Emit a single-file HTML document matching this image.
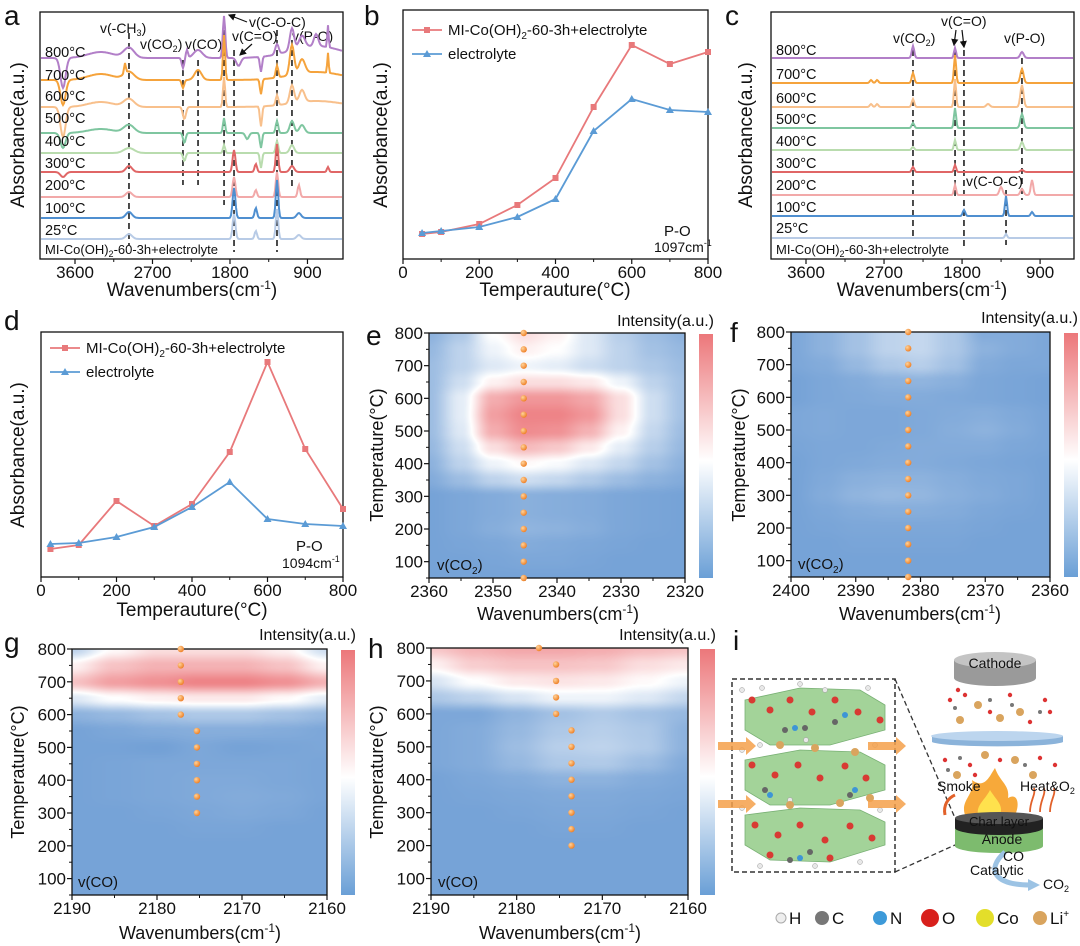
<!DOCTYPE html>
<html><head><meta charset="utf-8">
<style>
html,body{margin:0;padding:0;background:#fff;}
#wrap{position:relative;width:1080px;height:946px;overflow:hidden;font-family:"Liberation Sans",sans-serif;}
canvas{position:absolute;}
#fig{position:absolute;left:0;top:0;}
text{font-family:"Liberation Sans",sans-serif;fill:#111;}
</style></head>
<body>
<div id="wrap">
<canvas id="hmE" width="256" height="245" style="left:429px;top:333px"></canvas>
<canvas id="hmF" width="259" height="245" style="left:791px;top:332px"></canvas>
<canvas id="hmG" width="255" height="246" style="left:72px;top:649px"></canvas>
<canvas id="hmH" width="257" height="247" style="left:431px;top:648px"></canvas>
<svg id="fig" width="1080" height="946" xmlns="http://www.w3.org/2000/svg">
<defs>
<linearGradient id="cbar" x1="0" y1="0" x2="0" y2="1">
<stop offset="0" stop-color="#ec777a"/><stop offset="0.52" stop-color="#ffffff"/><stop offset="1" stop-color="#6a9fd6"/>
</linearGradient>
<radialGradient id="dotg" cx="0.35" cy="0.35" r="0.7"><stop offset="0" stop-color="#ffd39a"/><stop offset="1" stop-color="#ee7d22"/></radialGradient>
<marker id="arh" markerWidth="6" markerHeight="6" refX="5" refY="3" orient="auto"><path d="M0,0 L6,3 L0,6 z" fill="#111"/></marker>
</defs>

<text x="4" y="25" font-size="28">a</text>
<text x="364" y="25" font-size="28">b</text>
<text x="725" y="25" font-size="28">c</text>
<text x="4" y="330" font-size="28">d</text>
<text x="366" y="345" font-size="28">e</text>
<text x="730" y="342" font-size="28">f</text>
<text x="4" y="652" font-size="28">g</text>
<text x="368" y="658" font-size="28">h</text>
<text x="733" y="650" font-size="28">i</text>

<g font-size="19" text-anchor="middle">
<text x="192" y="296">Wavenumbers(cm<tspan font-size="12" dy="-7">-1</tspan><tspan dy="7">)</tspan></text>
<text x="555" y="296">Temperauture(°C)</text>
<text x="922" y="296">Wavenumbers(cm<tspan font-size="12" dy="-7">-1</tspan><tspan dy="7">)</tspan></text>
<text x="192" y="616">Temperauture(°C)</text>
<text x="558" y="620" font-size="18">Wavenumbers(cm<tspan font-size="12" dy="-7">-1</tspan><tspan dy="7">)</tspan></text>
<text x="920" y="620" font-size="18">Wavenumbers(cm<tspan font-size="12" dy="-7">-1</tspan><tspan dy="7">)</tspan></text>
<text x="200" y="939" font-size="18">Wavenumbers(cm<tspan font-size="12" dy="-7">-1</tspan><tspan dy="7">)</tspan></text>
<text x="560" y="939" font-size="18">Wavenumbers(cm<tspan font-size="12" dy="-7">-1</tspan><tspan dy="7">)</tspan></text>
<text transform="translate(24,135) rotate(-90)">Absorbance(a.u.)</text>
<text transform="translate(387,135) rotate(-90)">Absorbance(a.u.)</text>
<text transform="translate(752,135) rotate(-90)">Absorbance(a.u.)</text>
<text transform="translate(24,455) rotate(-90)">Absorbance(a.u.)</text>
<text transform="translate(383,455) rotate(-90)" font-size="18">Temperature(°C)</text>
<text transform="translate(745,455) rotate(-90)" font-size="18">Temperature(°C)</text>
<text transform="translate(24,772) rotate(-90)" font-size="18">Temperature(°C)</text>
<text transform="translate(383,772) rotate(-90)" font-size="18">Temperature(°C)</text>
</g>

<rect x="699" y="334" width="14" height="244" fill="url(#cbar)"/>
<rect x="1064" y="333" width="14" height="244" fill="url(#cbar)"/>
<rect x="341" y="650" width="14" height="245" fill="url(#cbar)"/>
<rect x="700" y="649" width="15" height="246" fill="url(#cbar)"/>
<g font-size="16" text-anchor="end">
<text x="714" y="326">Intensity(a.u.)</text>
<text x="1078" y="323">Intensity(a.u.)</text>
<text x="356" y="640">Intensity(a.u.)</text>
<text x="716" y="640">Intensity(a.u.)</text>
</g>
<g font-size="15">
<text x="437" y="570" fill="#e8f0fa">v(CO<tspan font-size="10" dy="4">2</tspan><tspan dy="-4">)</tspan></text>
<text x="798" y="569" fill="#e8f0fa">v(CO<tspan font-size="10" dy="4">2</tspan><tspan dy="-4">)</tspan></text>
<text x="78" y="887" fill="#e8f0fa">v(CO)</text>
<text x="438" y="887" fill="#e8f0fa">v(CO)</text>
</g>

<g font-size="14">
<text x="100" y="33">v(-CH<tspan font-size="9" dy="3">3</tspan><tspan dy="-3">)</tspan></text>
<text x="140" y="49">v(CO<tspan font-size="9" dy="3">2</tspan><tspan dy="-3">)</tspan></text>
<text x="185" y="49">v(CO)</text>
<text x="249" y="27">v(C-O-C)</text>
<text x="232" y="41">v(C=O)</text>
<text x="292" y="41">v(P-O)</text>
<line x1="247" y1="22" x2="229" y2="15" stroke="#111" stroke-width="1.2" marker-end="url(#arh)"/>
<line x1="252" y1="44" x2="240" y2="55" stroke="#111" stroke-width="1.2" marker-end="url(#arh)"/>
</g>
<g font-size="14">
<text x="893" y="43">v(CO<tspan font-size="9" dy="3">2</tspan><tspan dy="-3">)</tspan></text>
<text x="941" y="26">v(C=O)</text>
<text x="1004" y="43">v(P-O)</text>
<text x="966" y="186">v(C-O-C)</text>
<line x1="956" y1="30" x2="954" y2="45" stroke="#111" stroke-width="1.2" marker-end="url(#arh)"/>
<line x1="962" y1="30" x2="964" y2="47" stroke="#111" stroke-width="1.2" marker-end="url(#arh)"/>
</g>
<g font-size="15">
<text x="664" y="236">P-O</text>
<text x="654" y="252" font-size="14">1097cm<tspan font-size="9" dy="-6">-1</tspan></text>
<text x="296" y="551">P-O</text>
<text x="282" y="568" font-size="14">1094cm<tspan font-size="9" dy="-6">-1</tspan></text>
</g>

<g id="plots"></g>

<g id="panel-i">
<rect x="732" y="679" width="163" height="193" fill="none" stroke="#333" stroke-width="1.5" stroke-dasharray="5,3"/>
<path d="M895,679 L955,818 M895,872 L955,845" stroke="#333" stroke-width="1.3" stroke-dasharray="5,3" fill="none"/>
<g fill="#9acf8e" stroke="#6aa865" stroke-width="0.8" opacity="0.9">
<path d="M745,700 L800,688 L860,690 L885,705 L885,730 L830,745 L770,745 L745,730 z"/>
<path d="M745,760 L800,750 L860,752 L885,765 L885,790 L830,805 L770,805 L745,790 z"/>
<path d="M745,815 L800,808 L860,810 L885,822 L885,845 L830,862 L770,860 L745,845 z"/>
</g>
<g fill="#e8e8e8" stroke="#999" stroke-width="0.5">
<circle cx="742" cy="690" r="2.5"/><circle cx="762" cy="688" r="2.5"/><circle cx="800" cy="684" r="2.5"/><circle cx="825" cy="690" r="2.5"/><circle cx="868" cy="688" r="2.5"/><circle cx="742" cy="750" r="2.5"/><circle cx="760" cy="745" r="2.5"/><circle cx="806" cy="740" r="2.5"/><circle cx="875" cy="745" r="2.5"/><circle cx="742" cy="808" r="2.5"/><circle cx="790" cy="800" r="2.5"/><circle cx="880" cy="810" r="2.5"/><circle cx="760" cy="866" r="2.5"/><circle cx="815" cy="866" r="2.5"/><circle cx="860" cy="862" r="2.5"/>
</g>
<g fill="#d83a33">
<circle cx="752" cy="700" r="3.5"/><circle cx="770" cy="710" r="3.5"/><circle cx="790" cy="700" r="3.5"/><circle cx="812" cy="712" r="3.5"/><circle cx="835" cy="700" r="3.5"/><circle cx="858" cy="712" r="3.5"/><circle cx="880" cy="720" r="3.5"/>
<circle cx="752" cy="765" r="3.5"/><circle cx="775" cy="775" r="3.5"/><circle cx="798" cy="765" r="3.5"/><circle cx="820" cy="778" r="3.5"/><circle cx="845" cy="766" r="3.5"/><circle cx="866" cy="778" r="3.5"/>
<circle cx="755" cy="825" r="3.5"/><circle cx="778" cy="835" r="3.5"/><circle cx="800" cy="825" r="3.5"/><circle cx="825" cy="840" r="3.5"/><circle cx="850" cy="826" r="3.5"/><circle cx="872" cy="838" r="3.5"/><circle cx="770" cy="855" r="3.5"/><circle cx="830" cy="858" r="3.5"/>
</g>
<g fill="#666">
<circle cx="785" cy="730" r="3"/><circle cx="805" cy="728" r="3"/><circle cx="835" cy="722" r="3"/><circle cx="765" cy="790" r="3"/><circle cx="850" cy="795" r="3"/><circle cx="790" cy="860" r="3"/><circle cx="810" cy="852" r="3"/>
</g>
<g fill="#d9a45e">
<circle cx="780" cy="745" r="4"/><circle cx="815" cy="748" r="4"/><circle cx="855" cy="752" r="4"/><circle cx="790" cy="805" r="4"/><circle cx="840" cy="803" r="4"/><circle cx="870" cy="798" r="4"/>
</g>
<g fill="#3d95d6">
<circle cx="795" cy="728" r="3"/><circle cx="845" cy="715" r="3"/><circle cx="770" cy="795" r="3"/><circle cx="800" cy="858" r="3"/><circle cx="855" cy="790" r="3"/>
</g>
<g fill="#f5a04a">
<path d="M718,742 L746,742 L746,737 L756,746 L746,755 L746,750 L718,750 z" opacity="0.85"/>
<path d="M718,800 L746,800 L746,795 L756,804 L746,813 L746,808 L718,808 z" opacity="0.85"/>
<path d="M868,742 L896,742 L896,737 L906,746 L896,755 L896,750 L868,750 z" opacity="0.85"/>
<path d="M868,800 L896,800 L896,795 L906,804 L896,813 L896,808 L868,808 z" opacity="0.85"/>
</g>
<g>
<path d="M954,660 L954,678 A41,8 0 0 0 1036,678 L1036,660 z" fill="#9a9a9a"/>
<ellipse cx="995" cy="660" rx="41" ry="8" fill="#c4c4c4"/>
<text x="995" y="668" font-size="14" text-anchor="middle" fill="#222">Cathode</text>
</g>
<g>
<g fill="#d9a45e"><circle cx="978" cy="705" r="4"/><circle cx="1020" cy="712" r="4"/><circle cx="960" cy="720" r="4"/><circle cx="1000" cy="718" r="4"/><circle cx="985" cy="755" r="4"/><circle cx="1015" cy="760" r="4"/><circle cx="957" cy="775" r="4"/><circle cx="1033" cy="775" r="4"/></g>
<g fill="#d33" ><circle cx="950" cy="700" r="2.2"/><circle cx="965" cy="695" r="2.2"/><circle cx="1010" cy="695" r="2.2"/><circle cx="1045" cy="700" r="2.2"/><circle cx="1030" cy="722" r="2.2"/><circle cx="945" cy="760" r="2.2"/><circle cx="970" cy="765" r="2.2"/><circle cx="1000" cy="760" r="2.2"/><circle cx="1040" cy="758" r="2.2"/><circle cx="1055" cy="765" r="2.2"/><circle cx="958" cy="690" r="2.2"/><circle cx="990" cy="712" r="2.2"/><circle cx="1050" cy="712" r="2.2"/><circle cx="975" cy="775" r="2.2"/></g>
<g fill="#777"><circle cx="955" cy="708" r="2"/><circle cx="990" cy="700" r="2"/><circle cx="1040" cy="712" r="2"/><circle cx="960" cy="758" r="2"/><circle cx="1025" cy="765" r="2"/><circle cx="1012" cy="705" r="2"/><circle cx="948" cy="770" r="2"/></g>
</g>
<g>
<path d="M932,736 L932,742 A66,5 0 0 0 1063,742 L1063,736 z" fill="#8bb3da"/>
<ellipse cx="997" cy="736" rx="66" ry="5" fill="#bcd5ee"/>
</g>
<g>
<path d="M965,815 C960,800 975,795 972,780 C985,790 990,775 995,768 C1000,782 1010,785 1008,798 C1018,792 1020,805 1015,815 z" fill="#f7a93a"/>
<path d="M978,815 C976,805 985,800 990,790 C996,800 1004,805 1000,815 z" fill="#ffe14d"/>
<path d="M945,815 C943,805 948,798 955,795" stroke="#e2612a" stroke-width="3" fill="none"/>
<path d="M1030,812 C1030,800 1036,795 1034,788 M1040,812 C1040,800 1046,795 1044,788 M1050,812 C1050,800 1056,795 1054,788" stroke="#e2612a" stroke-width="1.8" fill="none"/>
</g>
<text x="937" y="791" font-size="14">Smoke</text>
<text x="1020" y="791" font-size="14">Heat&amp;O<tspan font-size="9" dy="3">2</tspan></text>
<g>
<path d="M955,825 L955,846 A44,7 0 0 0 1043,846 L1043,825 z" fill="#7dbb6e"/>
<path d="M955,818 L955,828 A44,7 0 0 0 1043,828 L1043,818 z" fill="#222"/>
<ellipse cx="999" cy="818" rx="44" ry="6" fill="#555"/>
<text x="999" y="826" font-size="13" text-anchor="middle" fill="#ddd">Char layer</text>
<text x="1002" y="844" font-size="14" text-anchor="middle" fill="#222">Anode</text>
</g>
<path d="M1005,852 C985,870 995,885 1030,885" stroke="#9cc3e4" stroke-width="5" fill="none"/>
<path d="M1028,879 L1040,885 L1028,891 z" fill="#9cc3e4"/>
<text x="1003" y="861" font-size="14">CO</text>
<text x="970" y="875" font-size="14">Catalytic</text>
<text x="1043" y="889" font-size="14">CO<tspan font-size="9" dy="3">2</tspan></text>
<g font-size="17">
<circle cx="781" cy="918" r="5" fill="#eee" stroke="#aaa"/><text x="789" y="924">H</text>
<circle cx="822" cy="918" r="7" fill="#777"/><text x="832" y="924">C</text>
<circle cx="880" cy="918" r="7" fill="#3d9ad9"/><text x="890" y="924">N</text>
<circle cx="930" cy="918" r="9" fill="#d8201c"/><text x="942" y="924">O</text>
<circle cx="985" cy="918" r="9" fill="#e3de2a"/><text x="997" y="924">Co</text>
<circle cx="1040" cy="918" r="7" fill="#d9a45e"/><text x="1050" y="924">Li<tspan font-size="10" dy="-7">+</tspan></text>
</g>
</g>
</svg>
</div>
<script>
// ---------- DATA ----------
const tempsB = [50, 100, 200, 300, 400, 500, 600, 700, 800];
const hybridB = [25, 27, 35, 54, 81, 152, 214, 195, 207];
const electroB = [26, 28, 32, 42, 60, 128, 160, 149, 147];
const tempsD = [25, 100, 200, 300, 400, 500, 600, 700, 800];
const hybridD = [28, 32, 76, 51, 73, 125, 215, 128, 68];
const electroD = [33, 34, 40, 50, 70, 95, 58, 53, 51];
const tempTicks = [0, 200, 400, 600, 800];
const wnTicks = [3600, 2700, 1800, 900];
const traceLabels = ['800°C', '700°C', '600°C', '500°C', '400°C', '300°C', '200°C', '100°C', '25°C'];
const traceColors = ['#b27fc8', '#f5a33c', '#f8c08c', '#7fc6a0', '#b9dcae', '#e06666', '#f2a9a9', '#4f8fd0', '#b8cbe6'];
const stackA = [181, 159, 132, 106, 86, 67, 42, 21, 0];
const peaksA = [
  [[3739,-30,30],[3300,6,150],[2973,10,60],[2346,-10,14],[2300,8,12],[2171,8,50],[1869,42,14],[1700,-8,25],[1440,-15,12],[1254,10,20],[1080,22,25],[964,12,35],[800,12,25],[662,22,8],[800,12,300]],
  [[3739,-25,30],[3300,6,150],[3020,10,10],[2973,8,60],[2346,-8,14],[2171,10,40],[1869,45,12],[1440,-15,12],[1254,12,14],[1080,30,25],[964,14,35],[662,20,8],[800,8,300]],
  [[3739,-30,30],[3300,5,150],[2973,8,60],[2330,-12,18],[1869,30,12],[1440,-20,12],[1254,10,14],[1080,18,25],[964,12,30],[800,6,300]],
  [[3739,-15,30],[3300,4,150],[2973,8,60],[2330,-10,15],[1869,15,12],[1600,-6,20],[1440,-15,12],[1254,12,14],[1080,12,25],[964,8,30]],
  [[2973,5,60],[2330,-8,15],[1869,8,12],[1440,-15,12],[1254,12,14],[1080,8,25]],
  [[3739,-5,30],[2973,6,35],[1753,22,16],[1500,8,14],[1254,28,14],[1080,6,25],[662,5,12]],
  [[2973,5,35],[1753,20,16],[1500,7,14],[1254,25,14],[1000,12,14]],
  [[2973,6,35],[1753,30,16],[1500,10,14],[1254,38,14],[1000,5,25]],
  [[2973,5,35],[1753,25,16],[1500,8,14],[1254,30,14],[1000,4,25]]
];
const dashedA = [2973, 2346, 2171, 1869, 1753, 1254, 1080];
const stackC = [180, 155, 131, 110, 88, 66, 43, 22, 0];
const peaksC = [
  [[2366,12,14],[1881,10,12],[1109,6,20]],
  [[2850,3,14],[2780,3,14],[2366,10,14],[1881,28,12],[1109,14,18]],
  [[2850,3,14],[2780,3,14],[2366,8,14],[1881,28,12],[1500,3,20],[1109,22,18]],
  [[2366,5,14],[1881,20,12],[1109,14,18]],
  [[2366,3,14],[1881,10,12],[1109,8,18]],
  [[2366,5,14],[1881,7,12],[1109,2,18]],
  [[1881,10,12],[1351,8,18],[993,15,14],[1109,6,18]],
  [[1778,6,14],[1293,20,12],[993,4,14]],
  [[1293,4,12]]
];
const dashedC = [2366, 1881, 1778, 1293, 1109];
const hmTemps = [800, 750, 700, 650, 600, 550, 500, 450, 400, 350, 300, 250, 200, 150, 100, 50];
const wnE = [2360, 2355, 2350, 2345, 2340, 2335, 2330, 2325, 2320];
const valsE = [
 [.15,.25,.5,.62,.55,.4,.28,.2,.15],
 [.18,.3,.45,.55,.5,.4,.3,.22,.18],
 [.2,.3,.4,.45,.42,.35,.3,.25,.2],
 [.2,.35,.55,.62,.62,.58,.45,.3,.22],
 [.2,.42,.8,.88,.88,.82,.62,.35,.22],
 [.2,.42,.85,.95,.95,.88,.62,.35,.22],
 [.2,.4,.8,.92,.9,.78,.55,.32,.2],
 [.18,.35,.62,.75,.7,.58,.42,.28,.18],
 [.15,.3,.45,.52,.48,.4,.32,.22,.15],
 [.12,.2,.3,.35,.32,.26,.2,.15,.12],
 [.08,.1,.12,.14,.13,.12,.1,.09,.08],
 [.08,.1,.12,.14,.13,.12,.1,.09,.08],
 [.08,.1,.13,.16,.15,.13,.1,.09,.08],
 [.08,.09,.1,.12,.11,.1,.09,.08,.08],
 [.08,.08,.09,.1,.1,.09,.08,.08,.08],
 [.08,.08,.08,.08,.08,.08,.08,.08,.08]
];
const wnF = [2400, 2395, 2390, 2385, 2380, 2375, 2370, 2365, 2360];
const valsF = [
 [.1,.15,.22,.3,.32,.25,.12,.12,.1],
 [.1,.15,.22,.3,.32,.25,.15,.12,.1],
 [.1,.12,.18,.25,.28,.22,.12,.1,.1],
 [.08,.1,.12,.15,.16,.14,.1,.09,.08],
 [.08,.1,.11,.12,.12,.11,.1,.09,.08],
 [.1,.11,.1,.1,.11,.12,.13,.11,.09],
 [.1,.11,.1,.1,.11,.13,.15,.12,.09],
 [.09,.1,.1,.11,.12,.12,.12,.1,.09],
 [.08,.1,.11,.12,.12,.11,.1,.09,.08],
 [.08,.11,.14,.15,.15,.13,.11,.1,.08],
 [.08,.12,.16,.18,.17,.14,.12,.1,.08],
 [.08,.1,.12,.13,.13,.12,.1,.09,.08],
 [.08,.09,.1,.1,.1,.1,.09,.08,.08],
 [.08,.08,.09,.09,.09,.09,.08,.08,.08],
 [.08,.08,.08,.08,.08,.08,.08,.08,.08],
 [.08,.08,.08,.08,.08,.08,.08,.08,.08]
];
const wnG = [2190, 2185, 2180, 2175, 2170, 2165, 2160];
const valsG = [
 [.3,.52,.62,.62,.62,.55,.35],
 [.55,.72,.78,.78,.78,.72,.55],
 [.72,.85,.9,.95,.95,.9,.78],
 [.4,.5,.55,.58,.58,.52,.42],
 [.15,.18,.22,.25,.25,.22,.18],
 [.08,.1,.12,.13,.13,.12,.1],
 [.08,.08,.07,.1,.08,.09,.1],
 [.08,.09,.1,.1,.1,.1,.09],
 [.08,.09,.1,.11,.11,.1,.09],
 [.08,.09,.1,.11,.12,.11,.09],
 [.08,.08,.09,.1,.11,.1,.08],
 [.08,.08,.08,.09,.09,.08,.08],
 [.08,.08,.08,.08,.08,.08,.08],
 [.08,.08,.08,.08,.08,.08,.08],
 [.08,.08,.08,.08,.08,.08,.08],
 [.08,.08,.08,.08,.08,.08,.08]
];
const wnH = [2190, 2185, 2180, 2175, 2170, 2165, 2160];
const valsH = [
 [.7,.78,.82,.82,.8,.75,.72],
 [.55,.68,.72,.72,.7,.62,.58],
 [.38,.5,.58,.6,.58,.52,.45],
 [.25,.3,.38,.45,.45,.4,.32],
 [.1,.1,.16,.22,.26,.22,.18],
 [.1,.12,.18,.25,.28,.25,.15],
 [.1,.12,.2,.28,.3,.26,.15],
 [.1,.12,.18,.25,.26,.2,.12],
 [.08,.1,.12,.15,.15,.12,.1],
 [.08,.09,.1,.11,.11,.1,.09],
 [.08,.08,.09,.1,.1,.09,.08],
 [.08,.08,.08,.09,.09,.08,.08],
 [.08,.08,.08,.08,.08,.08,.08],
 [.08,.08,.08,.08,.08,.08,.08],
 [.08,.08,.08,.08,.08,.08,.08],
 [.08,.08,.08,.08,.08,.08,.08]
];
const hmYTicks = [100, 200, 300, 400, 500, 600, 700, 800];
const dotTempsE = [50,100,150,200,250,300,350,400,450,500,550,600,650,700,750,800];
const dotWnE = [2345.2,2345.2,2345.2,2345.2,2345.2,2345.2,2345.2,2345.2,2345.2,2345.2,2345.2,2345.2,2345.2,2345.2,2345.2,2345.2];
const dotTempsF = [50,100,150,200,250,300,350,400,450,500,550,600,650,700,750,800];
const dotWnF = [2381.9,2381.9,2381.9,2381.9,2381.9,2381.9,2381.9,2381.9,2381.9,2381.9,2381.9,2381.9,2381.9,2381.9,2381.9,2381.9];
const dotTempsG = [800,750,700,650,600,550,500,450,400,350,300];
const dotWnG = [2177.2,2177.2,2177.2,2177.2,2177.2,2175.3,2175.3,2175.3,2175.3,2175.3,2175.3];
const dotTempsH = [800,750,700,650,600,550,500,450,400,350,300,250,200];
const dotWnH = [2177.4,2175.4,2175.4,2175.4,2175.4,2173.6,2173.6,2173.6,2173.6,2173.6,2173.6,2173.6,2173.6];

// ---------- DRAWING ----------
const NS = 'http://www.w3.org/2000/svg';
const root = document.getElementById('plots');
function mk(tag, attrs, parent) {
  const e = document.createElementNS(NS, tag);
  for (const k in attrs) e.setAttribute(k, attrs[k]);
  (parent || root).appendChild(e);
  return e;
}
function lin(d0, d1, r0, r1) { return v => r0 + (v - d0) / (d1 - d0) * (r1 - r0); }

function frame(name, x0, y0, x1, y1) {
  const r = mk('rect', {x: x0, y: y0, width: x1 - x0, height: y1 - y0, fill: 'none', stroke: '#111', 'stroke-width': 1.3});
  
  
}
function xTicks(name, labels, y1, sx, minor) {
  const g = mk('g', {'font-size': 17, 'text-anchor': 'middle'});
  
  
  labels.forEach(v => {
    mk('line', {x1: sx(v), x2: sx(v), y1: y1, y2: y1 + 5, stroke: '#111', 'stroke-width': 1.2}, g);
    const t = mk('text', {x: sx(v), y: y1 + 19}, g);
    t.textContent = v;
  });
  minor.forEach(v => mk('line', {x1: sx(v), x2: sx(v), y1: y1, y2: y1 + 3, stroke: '#111', 'stroke-width': 1}, g));
}

function linePanel(key, temps, hyb, ele, x0, x1, y0, y1) {
  const sx = lin(0, 800, x0, x1);
  const sy = v => y1 - v;
  frame('plot-frame-' + key, x0, y0, x1, y1);
  xTicks('x-axis-' + key, tempTicks, y1, sx, [100, 300, 500, 700]);
  const series = [[hyb, '#e8797b', 'hybrid'], [ele, '#5b9bd5', 'electrolyte']];
  series.forEach(([vals, col, nm]) => {
    const pl = mk('polyline', {points: temps.map((t, i) => sx(t) + ',' + sy(vals[i])).join(' '), fill: 'none', stroke: col, 'stroke-width': 1.8});
    
    
    temps.forEach((t, i) => {
      const cx = sx(t), cy = sy(vals[i]);
      let m;
      if (nm === 'hybrid') m = mk('rect', {x: cx - 3, y: cy - 3, width: 6, height: 6, fill: col});
      else m = mk('path', {d: `M${cx},${cy - 4} L${cx + 4},${cy + 3} L${cx - 4},${cy + 3} z`, fill: col});
      
      
    });
  });
}
linePanel('b', tempsB, hybridB, electroB, 403, 708, 10, 259);
linePanel('d', tempsD, hybridD, electroD, 41, 343, 332, 577);

function legend(key, x, y) {
  const g = mk('g', {'font-size': 15});
  
  
  mk('line', {x1: x, x2: x + 30, y1: y, y2: y, stroke: '#e8797b', 'stroke-width': 1.8}, g);
  mk('rect', {x: x + 12, y: y - 3, width: 6, height: 6, fill: '#e8797b'}, g);
  const t1 = mk('text', {x: x + 36, y: y + 5}, g);
  t1.innerHTML = 'MI-Co(OH)<tspan font-size="10" dy="4">2</tspan><tspan dy="-4">-60-3h+electrolyte</tspan>';
  mk('line', {x1: x, x2: x + 30, y1: y + 24, y2: y + 24, stroke: '#5b9bd5', 'stroke-width': 1.8}, g);
  mk('path', {d: `M${x + 15},${y + 20} L${x + 19},${y + 27} L${x + 11},${y + 27} z`, fill: '#5b9bd5'}, g);
  const t2 = mk('text', {x: x + 36, y: y + 29}, g);
  t2.textContent = 'electrolyte';
}
legend('b', 412, 30);
legend('d', 50, 348);

function spectraPanel(key, peaks, stack, dashed, x0, x1, y0, y1, sx, base, labelYs, dashSpans) {
  frame('plot-frame-' + key, x0, y0, x1, y1);
  xTicks('x-axis-' + key, wnTicks, y1, sx, [3150, 2250, 1350, 450].filter(v => sx(v) < x1 && sx(v) > x0));
  dashed.forEach((w, i) => {
    const l = mk('line', {x1: sx(w), x2: sx(w), y1: dashSpans[i][0], y2: dashSpans[i][1], stroke: '#111', 'stroke-width': 1.5, 'stroke-dasharray': '6,4'});
    
    
  });
  peaks.forEach((pk, ti) => {
    let d = '';
    for (let x = x0 + 1; x <= x1 - 1; x += 1) {
      const w = 3600 + (x - sx(3600)) * (900 / (sx(3600) - sx(2700)));
      let s = 0;
      pk.forEach(([c, h, wd]) => { s += h * Math.exp(-((w - c) * (w - c)) / (2 * wd * wd)); });
      const y = Math.max(y0 + 2, base - stack[ti] - s);
      d += (d ? 'L' : 'M') + x + ',' + y.toFixed(1);
    }
    const p = mk('path', {d: d, fill: 'none', stroke: traceColors[ti], 'stroke-width': 2});
    
    
    const t = mk('text', {x: x0 + 5, y: labelYs[ti], 'font-size': 14.5});
    
    
    t.textContent = traceLabels[ti];
  });
  const s = mk('text', {x: x0 + 5, y: y1 - 5, 'font-size': 13});
  
  
  s.innerHTML = 'MI-Co(OH)<tspan font-size="9" dy="3">2</tspan><tspan dy="-3">-60-3h+electrolyte</tspan>';
}
const sxA = w => 75 + (3600 - w) * 0.0861;
const sxC = w => 806 + (3600 - w) * 0.0867;
spectraPanel('a', peaksA, stackA, dashedA, 40, 343, 12, 259, sxA, 239,
  [57, 80, 101, 123, 146, 168, 190, 213, 235],
  [[33, 245], [60, 185], [60, 185], [30, 205], [50, 252], [30, 252], [40, 190]]);
spectraPanel('c', peaksC, stackC, dashedC, 771, 1074, 12, 259, sxC, 238,
  [55, 79, 103, 124, 146, 168, 190, 212, 233],
  [[50, 236], [50, 200], [50, 250], [190, 245], [58, 200]]);

function colorOf(v) {
  v = Math.max(0, Math.min(1, v));
  const b = [92, 145, 207], w = [255, 255, 255], r = [236, 118, 122];
  let a, c, t;
  if (v < 0.5) { a = b; c = w; t = v / 0.5; } else { a = w; c = r; t = (v - 0.5) / 0.5; }
  return [0, 1, 2].map(i => Math.round(a[i] + (c[i] - a[i]) * t));
}
function heatmap(key, canvasId, wns, vals, x0, x1, y0, y1, dotT, dotW) {
  const cv = document.getElementById(canvasId);
  const ctx = cv.getContext('2d');
  const W = cv.width, H = cv.height;
  const img = ctx.createImageData(W, H);
  const sm = t => t * t * (3 - 2 * t);
  for (let py = 0; py < H; py++) {
    const temp = 800 - (py / (H - 1)) * 750;
    let fr = (800 - temp) / 50; let r0 = Math.min(Math.floor(fr), hmTemps.length - 2); let ty = sm(fr - r0);
    for (let px = 0; px < W; px++) {
      let fc = px / (W - 1) * (wns.length - 1); let c0 = Math.min(Math.floor(fc), wns.length - 2); let tx = sm(fc - c0);
      const v = (vals[r0][c0] * (1 - tx) + vals[r0][c0 + 1] * tx) * (1 - ty) + (vals[r0 + 1][c0] * (1 - tx) + vals[r0 + 1][c0 + 1] * tx) * ty;
      const col = colorOf(v);
      const k = (py * W + px) * 4;
      img.data[k] = col[0]; img.data[k + 1] = col[1]; img.data[k + 2] = col[2]; img.data[k + 3] = 255;
    }
  }
  ctx.putImageData(img, 0, 0);
  const sx = lin(wns[0], wns[wns.length - 1], x0, x1);
  const sy = lin(50, 800, y1, y0);
  frame('heatmap-frame-' + key, x0, y0, x1, y1);
  const span = Math.abs(wns[wns.length - 1] - wns[0]);
  const n = span / 10;
  const labs = [];
  for (let i = 0; i <= n; i++) labs.push(wns[0] - i * 10);
  const minors = labs.slice(0, -1).map(v => v - 5);
  xTicks('x-axis-' + key, labs, y1, sx, minors);
  const g = mk('g', {'font-size': 17, 'text-anchor': 'end'});
  
  
  hmYTicks.forEach(t => {
    mk('line', {x1: x0 - 5, x2: x0, y1: sy(t), y2: sy(t), stroke: '#111', 'stroke-width': 1.2}, g);
    mk('line', {x1: x0 - 3, x2: x0, y1: sy(t - 50), y2: sy(t - 50), stroke: '#111', 'stroke-width': 1}, g);
    const tx = mk('text', {x: x0 - 6, y: sy(t) + 6}, g);
    tx.textContent = t;
  });
  dotT.forEach((t, i) => {
    const c = mk('circle', {cx: sx(dotW[i]), cy: sy(t), r: 3.2, fill: 'url(#dotg)'});
    
    
  });
}
heatmap('e', 'hmE', wnE, valsE, 429, 685, 333, 578, dotTempsE, dotWnE);
heatmap('f', 'hmF', wnF, valsF, 791, 1050, 332, 577, dotTempsF, dotWnF);
heatmap('g', 'hmG', wnG, valsG, 72, 327, 649, 895, dotTempsG, dotWnG);
heatmap('h', 'hmH', wnH, valsH, 431, 688, 648, 895, dotTempsH, dotWnH);
</script>
</body></html>
